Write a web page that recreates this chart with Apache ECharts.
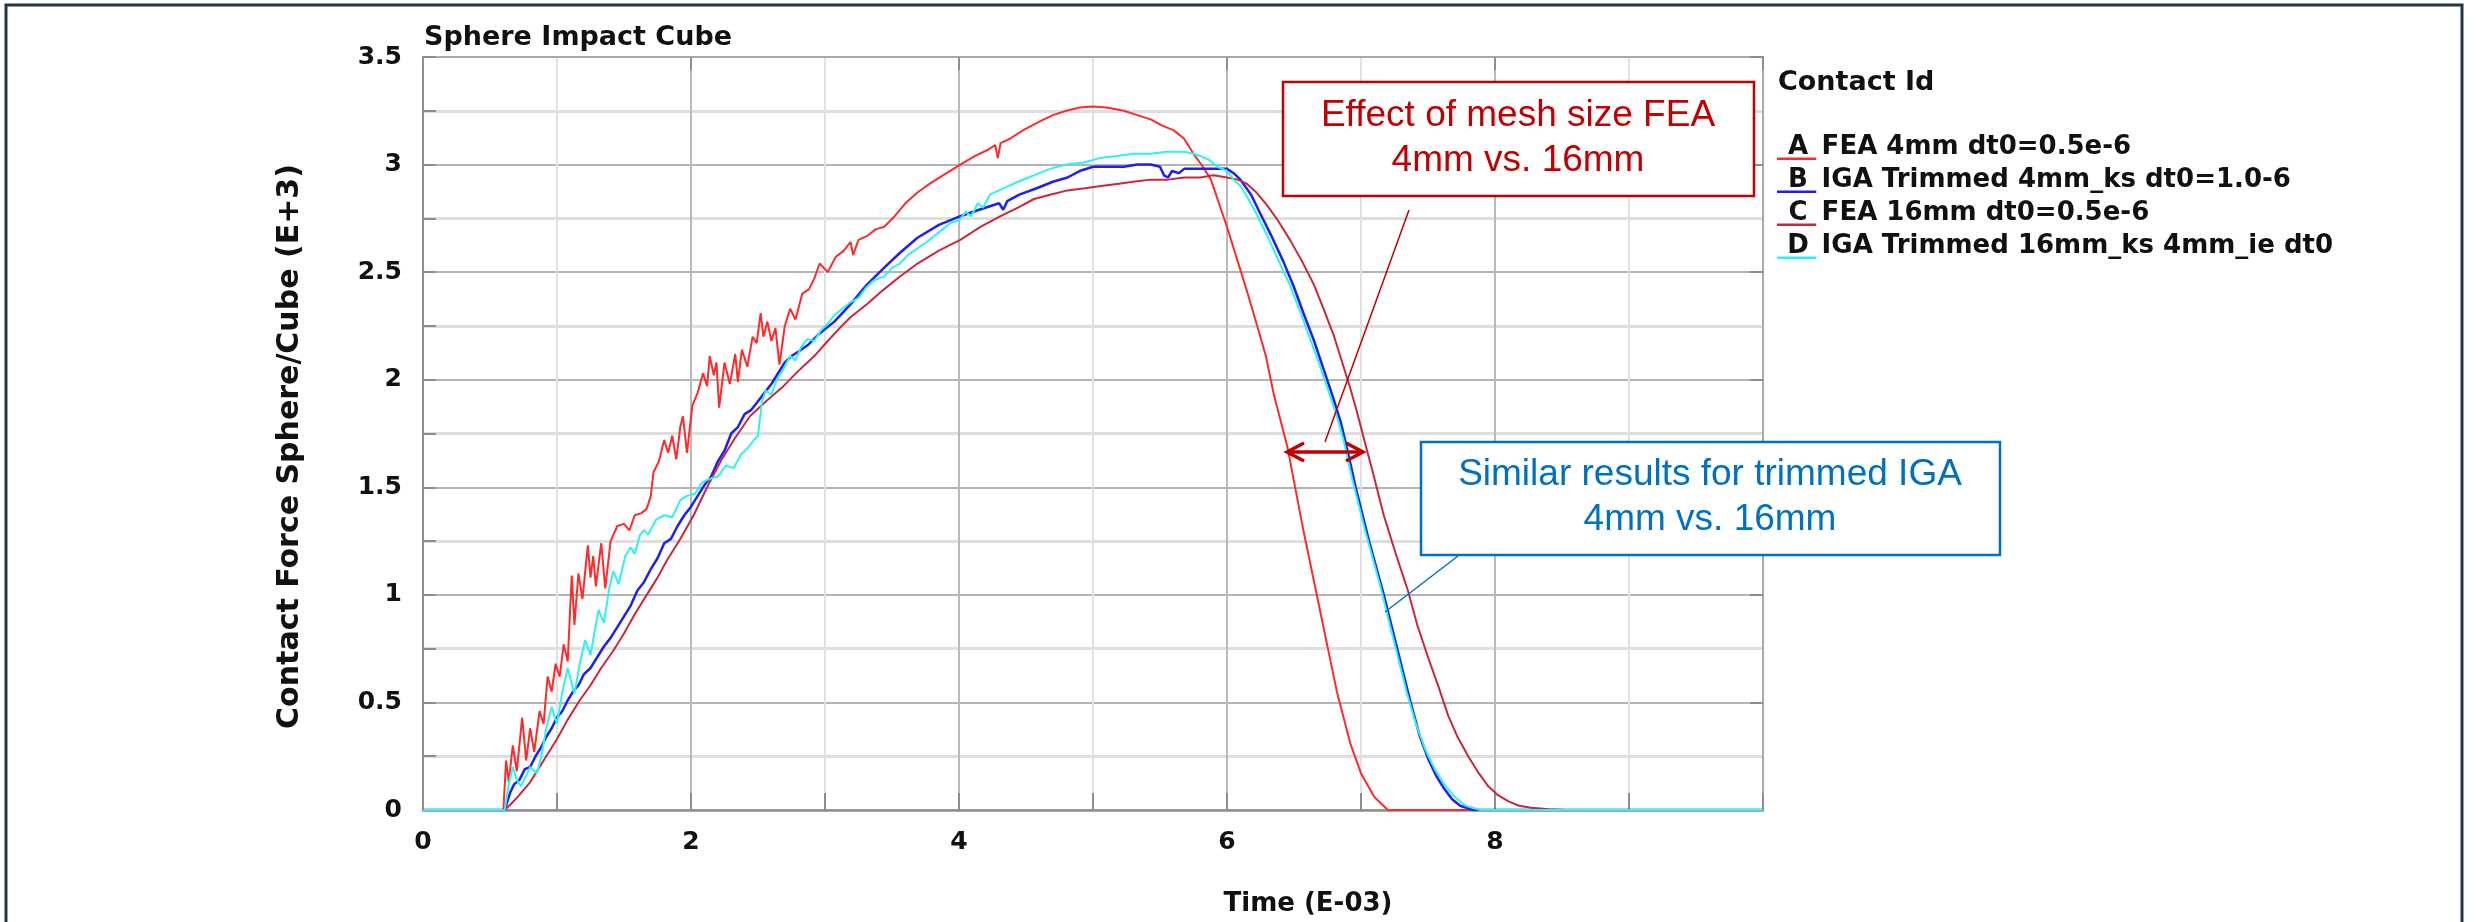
<!DOCTYPE html>
<html>
<head>
<meta charset="utf-8">
<title>Sphere Impact Cube</title>
<script src="https://cdn.jsdelivr.net/npm/echarts@6/dist/echarts.min.js"></script>
<style>
  html, body { margin: 0; padding: 0; background: #fff; }
  #chart { width: 2476px; height: 922px; }
</style>
</head>
<body>
<div id="chart"></div>
<script>
// Contact force Sphere/Cube, time in E-03, force in E+3
const curveKeys = ['A', 'B', 'C', 'D'];
const curveNames = [
    'A FEA 4mm dt0=0.5e-6',
    'B IGA Trimmed 4mm_ks dt0=1.0-6',
    'C FEA 16mm dt0=0.5e-6',
    'D IGA Trimmed 16mm_ks 4mm_ie dt0'
];

// A: FEA 4mm
const fea4mm = [
    [0,0],[0.60,0],[0.62,0.23],[0.64,0.13],[0.67,0.30],[0.70,0.18],[0.74,0.43],[0.77,0.23],
    [0.80,0.38],[0.83,0.27],[0.87,0.46],[0.90,0.40],[0.93,0.62],[0.96,0.55],[0.99,0.68],
    [1.02,0.62],[1.05,0.77],[1.08,0.69],[1.11,1.09],[1.13,0.86],[1.16,1.10],[1.19,0.98],
    [1.23,1.23],[1.25,1.08],[1.27,1.18],[1.29,1.04],[1.33,1.24],[1.36,1.03],[1.40,1.25],
    [1.45,1.32],[1.50,1.33],[1.54,1.30],[1.58,1.37],[1.63,1.38],[1.67,1.40],[1.70,1.46],
    [1.72,1.57],[1.76,1.62],[1.80,1.72],[1.83,1.66],[1.86,1.74],[1.89,1.63],[1.92,1.78],
    [1.94,1.83],[1.97,1.66],[2.01,1.88],[2.05,1.94],[2.09,2.03],[2.12,1.97],[2.14,2.11],
    [2.17,2.02],[2.19,2.08],[2.21,1.87],[2.25,2.08],[2.29,1.98],[2.33,2.12],[2.35,1.99],
    [2.38,2.14],[2.42,2.06],[2.46,2.20],[2.49,2.17],[2.52,2.31],[2.54,2.20],[2.57,2.27],
    [2.60,2.18],[2.63,2.24],[2.66,2.07],[2.70,2.25],[2.74,2.33],[2.78,2.28],[2.83,2.40],
    [2.88,2.42],[2.92,2.47],[2.96,2.54],[3.02,2.50],[3.08,2.57],[3.14,2.60],[3.19,2.64],
    [3.21,2.58],[3.25,2.65],[3.32,2.67],[3.38,2.70],[3.44,2.71],[3.52,2.76],[3.60,2.82],
    [3.69,2.87],[3.78,2.91],[3.88,2.95],[4.01,3.00],[4.12,3.04],[4.22,3.07],[4.27,3.09],
    [4.29,3.03],[4.31,3.10],[4.38,3.12],[4.48,3.16],[4.60,3.20],[4.70,3.23],[4.80,3.25],
    [4.90,3.265],[5.00,3.27],[5.10,3.265],[5.23,3.25],[5.33,3.23],[5.43,3.21],[5.52,3.18],
    [5.60,3.16],[5.68,3.12],[5.75,3.05],[5.82,2.99],[5.88,2.93],[5.94,2.82],[6.00,2.71],
    [6.08,2.55],[6.15,2.41],[6.23,2.24],[6.29,2.11],[6.35,1.93],[6.45,1.69],[6.57,1.30],
    [6.70,0.91],[6.82,0.55],[6.92,0.31],[7.00,0.17],[7.10,0.06],[7.20,0],[10,0]
];

// B: IGA trimmed 4mm
const iga4mm = [
    [0,0],[0.61,0],[0.65,0.08],[0.68,0.12],[0.72,0.14],[0.76,0.19],[0.80,0.20],[0.84,0.25],
    [0.88,0.29],[0.92,0.34],[0.96,0.38],[1.00,0.43],[1.04,0.46],[1.08,0.51],[1.12,0.55],
    [1.16,0.58],[1.20,0.63],[1.25,0.66],[1.30,0.71],[1.35,0.76],[1.40,0.80],[1.45,0.85],
    [1.50,0.90],[1.55,0.95],[1.60,1.02],[1.65,1.06],[1.70,1.12],[1.75,1.17],[1.80,1.24],
    [1.85,1.26],[1.90,1.32],[1.95,1.37],[2.00,1.41],[2.05,1.46],[2.10,1.51],[2.15,1.55],
    [2.20,1.62],[2.25,1.67],[2.30,1.75],[2.35,1.78],[2.40,1.84],[2.45,1.86],[2.50,1.90],
    [2.55,1.94],[2.60,1.98],[2.65,2.03],[2.70,2.08],[2.75,2.11],[2.80,2.13],[2.87,2.16],
    [2.95,2.21],[3.07,2.27],[3.19,2.35],[3.31,2.44],[3.44,2.52],[3.56,2.59],[3.69,2.66],
    [3.85,2.72],[4.01,2.76],[4.15,2.79],[4.30,2.82],[4.33,2.79],[4.36,2.83],[4.45,2.86],
    [4.58,2.89],[4.70,2.92],[4.81,2.94],[4.90,2.97],[5.00,2.99],[5.12,2.99],[5.23,2.99],
    [5.33,3.00],[5.43,3.00],[5.50,2.99],[5.53,2.95],[5.56,2.94],[5.59,2.97],[5.64,2.96],
    [5.68,2.98],[5.80,2.98],[5.90,2.98],[6.00,2.98],[6.05,2.96],[6.10,2.93],[6.18,2.86],
    [6.25,2.77],[6.33,2.67],[6.42,2.55],[6.50,2.43],[6.57,2.31],[6.65,2.18],[6.72,2.05],
    [6.79,1.92],[6.85,1.80],[6.90,1.67],[6.96,1.50],[7.06,1.25],[7.17,1.00],[7.27,0.75],
    [7.37,0.50],[7.44,0.34],[7.50,0.24],[7.56,0.16],[7.62,0.10],[7.68,0.05],[7.74,0.02],
    [7.84,0],[10,0]
];

// C: FEA 16mm
const fea16mm = [
    [0,0],[0.61,0],[0.66,0.03],[0.72,0.07],[0.80,0.13],[0.86,0.19],[0.92,0.25],[1.00,0.33],
    [1.08,0.42],[1.17,0.51],[1.25,0.58],[1.33,0.66],[1.42,0.74],[1.50,0.82],[1.58,0.91],
    [1.67,1.00],[1.75,1.08],[1.82,1.16],[1.92,1.26],[2.02,1.37],[2.12,1.50],[2.22,1.62],
    [2.33,1.73],[2.44,1.83],[2.56,1.90],[2.69,1.97],[2.80,2.04],[2.92,2.11],[3.02,2.18],
    [3.11,2.24],[3.19,2.29],[3.31,2.35],[3.44,2.42],[3.56,2.48],[3.69,2.54],[3.85,2.60],
    [4.01,2.65],[4.16,2.71],[4.31,2.76],[4.44,2.80],[4.56,2.84],[4.68,2.86],[4.81,2.88],
    [4.94,2.89],[5.06,2.90],[5.18,2.91],[5.30,2.92],[5.43,2.93],[5.56,2.93],[5.68,2.94],
    [5.80,2.94],[5.90,2.95],[6.00,2.94],[6.08,2.93],[6.15,2.91],[6.22,2.87],[6.30,2.81],
    [6.38,2.74],[6.47,2.65],[6.56,2.55],[6.65,2.44],[6.72,2.33],[6.80,2.20],[6.86,2.08],
    [6.92,1.96],[6.97,1.85],[7.02,1.73],[7.08,1.59],[7.17,1.37],[7.26,1.19],[7.35,1.02],
    [7.42,0.86],[7.50,0.71],[7.58,0.57],[7.65,0.44],[7.72,0.34],[7.80,0.25],[7.88,0.17],
    [7.95,0.11],[8.02,0.07],[8.10,0.04],[8.18,0.02],[8.27,0.01],[8.40,0.003],[8.53,0],[10,0]
];

// D: IGA trimmed 16mm
const iga16mm = [
    [0,0],[0.61,0],[0.64,0.12],[0.67,0.20],[0.70,0.14],[0.73,0.11],[0.77,0.16],[0.80,0.20],
    [0.85,0.17],[0.88,0.24],[0.92,0.38],[0.96,0.48],[1.00,0.40],[1.04,0.55],[1.08,0.66],
    [1.13,0.54],[1.17,0.68],[1.21,0.79],[1.25,0.72],[1.31,0.93],[1.35,0.87],[1.39,1.03],
    [1.42,1.11],[1.46,1.05],[1.51,1.18],[1.55,1.22],[1.58,1.19],[1.62,1.28],[1.65,1.30],
    [1.68,1.28],[1.74,1.35],[1.80,1.37],[1.86,1.36],[1.92,1.44],[1.97,1.46],[2.03,1.47],
    [2.08,1.52],[2.14,1.54],[2.20,1.55],[2.26,1.60],[2.32,1.59],[2.37,1.65],[2.42,1.68],
    [2.47,1.72],[2.50,1.74],[2.53,1.90],[2.56,1.95],[2.60,1.93],[2.64,2.00],[2.69,2.05],
    [2.74,2.11],[2.78,2.09],[2.82,2.15],[2.87,2.19],[2.92,2.18],[2.97,2.23],[3.02,2.26],
    [3.07,2.30],[3.13,2.33],[3.19,2.36],[3.25,2.38],[3.31,2.43],[3.36,2.46],[3.44,2.48],
    [3.50,2.52],[3.56,2.54],[3.62,2.58],[3.69,2.61],[3.76,2.64],[3.82,2.67],[3.88,2.70],
    [3.94,2.73],[4.00,2.74],[4.05,2.78],[4.09,2.76],[4.14,2.82],[4.18,2.80],[4.23,2.86],
    [4.30,2.88],[4.37,2.90],[4.44,2.92],[4.52,2.94],[4.60,2.96],[4.68,2.98],[4.80,3.00],
    [4.93,3.01],[5.05,3.03],[5.18,3.04],[5.30,3.05],[5.43,3.05],[5.55,3.06],[5.68,3.06],
    [5.75,3.05],[5.80,3.04],[5.87,3.02],[5.93,2.99],[6.00,2.97],[6.05,2.93],[6.10,2.90],
    [6.15,2.85],[6.22,2.77],[6.30,2.67],[6.38,2.56],[6.47,2.44],[6.55,2.31],[6.62,2.19],
    [6.69,2.07],[6.75,1.96],[6.82,1.83],[6.87,1.72],[6.93,1.55],[7.03,1.30],[7.14,1.05],
    [7.24,0.80],[7.34,0.55],[7.41,0.40],[7.48,0.28],[7.55,0.19],[7.62,0.12],[7.70,0.06],
    [7.78,0.02],[7.89,0],[10,0]
];

const curveData = [fea4mm, iga4mm, fea16mm, iga16mm];
const curveColors = ['#ff2a2a', '#1f1fee', '#c8283c', '#2ef2f2'];
const curveWidths = [2, 2.5, 2, 2];

const chartFont = 'DejaVu Sans';
const noteFont = 'Liberation Sans';
const axisGrey = '#8e8e8e';

const chart = echarts.init(document.getElementById('chart'), null, { renderer: 'canvas' });

const series = curveNames.map((name, i) => ({
    name: name,
    type: 'line',
    data: curveData[i],
    showSymbol: false,
    symbol: 'none',
    lineStyle: { color: curveColors[i], width: curveWidths[i] },
    itemStyle: { color: curveColors[i] },
    animation: false
}));

// letters sit on top of the coloured underline of each legend entry
const legendLetters = curveKeys.map((k, i) => ({
    type: 'text',
    z: 100,
    x: 1798,
    y: 147 + i * 33,
    style: {
        text: k,
        font: 'bold 26px "' + chartFont + '"',
        fill: '#111',
        align: 'center', textAlign: 'center',
        verticalAlign: 'middle', textVerticalAlign: 'middle'
    }
}));

const option = {
    backgroundColor: '#ffffff',
    animation: false,
    title: [
        {
            text: 'Sphere Impact Cube',
            left: 424, top: 24, padding: 0,
            textStyle: { fontFamily: chartFont, fontSize: 27, fontWeight: 'bold', color: '#111' }
        },
        {
            text: 'Contact Id',
            left: 1778, top: 69, padding: 0,
            textStyle: { fontFamily: chartFont, fontSize: 27, fontWeight: 'bold', color: '#111' }
        }
    ],
    legend: {
        orient: 'vertical',
        left: 1777, top: 134,
        padding: 0,
        itemWidth: 40, itemHeight: 26, itemGap: 7,
        icon: 'path://M0,0L40,0L40,0ZM0,24L40,24L40,26.5L0,26.5Z',
        itemStyle: { borderWidth: 0 },
        selectedMode: false,
        formatter: name => name.slice(2),
        textStyle: { fontFamily: chartFont, fontSize: 26, fontWeight: 'bold', color: '#111', lineHeight: 26 },
        data: curveNames
    },
    grid: { left: 423, right: 713, top: 57, bottom: 109, containLabel: false },
    xAxis: [
        {
            type: 'value', min: 0, max: 10, interval: 2,
            name: 'Time (E-03)', nameLocation: 'middle', nameGap: 81,
            nameTextStyle: { fontFamily: chartFont, fontSize: 26, fontWeight: 'bold', color: '#111', padding: [0, 0, 0, 430] },
            axisLine: { lineStyle: { color: axisGrey, width: 2.5 } },
            axisTick: { inside: true, length: 17, lineStyle: { color: axisGrey, width: 2 } },
            minorTick: { show: true, splitNumber: 2, length: 17, lineStyle: { color: axisGrey, width: 2 } },
            splitLine: { show: true, lineStyle: { color: '#b9b9b9', width: 2 } },
            minorSplitLine: { show: true, lineStyle: { color: '#e0e0e0', width: 2 } },
            axisLabel: { showMaxLabel: false, margin: 20, fontFamily: chartFont, fontSize: 25, fontWeight: 'bold', color: '#111' }
        },
        {
            type: 'value', position: 'top', min: 0, max: 10, interval: 2,
            axisLine: { show: true, onZero: false, lineStyle: { color: '#a8a8a8', width: 2 } },
            axisTick: { show: true, inside: true, length: 13, lineStyle: { color: axisGrey, width: 2 } },
            axisLabel: { show: false },
            splitLine: { show: false }
        }
    ],
    yAxis: [
        {
            type: 'value', min: 0, max: 3.5, interval: 0.5,
            name: 'Contact Force Sphere/Cube (E+3)', nameLocation: 'middle', nameGap: 118,
            nameTextStyle: { fontFamily: chartFont, fontSize: 30, fontWeight: 'bold', color: '#111', padding: [0, 26, 0, 0] },
            axisLine: { show: true, lineStyle: { color: axisGrey, width: 2 } },
            axisTick: { show: true, inside: true, length: 13, lineStyle: { color: axisGrey, width: 2 } },
            minorTick: { show: true, splitNumber: 2, length: 13, lineStyle: { color: axisGrey, width: 2 } },
            splitLine: { show: true, lineStyle: { color: '#b4b4b4', width: 2 } },
            minorSplitLine: { show: true, lineStyle: { color: '#dedede', width: 3 } },
            axisLabel: { margin: 21, fontFamily: chartFont, fontSize: 25, fontWeight: 'bold', color: '#111' }
        },
        {
            type: 'value', position: 'right', min: 0, max: 3.5, interval: 0.5,
            axisLine: { show: true, onZero: false, lineStyle: { color: '#a8a8a8', width: 2 } },
            axisTick: { show: true, inside: true, length: 13, lineStyle: { color: axisGrey, width: 2 } },
            axisLabel: { show: false },
            splitLine: { show: false }
        }
    ],
    series: series,
    graphic: [
        // outer frame
        {
            type: 'rect', z: 100,
            shape: { x: 6, y: 5, width: 2456, height: 940 },
            style: { fill: null, stroke: '#22364a', lineWidth: 3 }
        },
        // FEA note
        {
            type: 'line', z: 100,
            shape: { x1: 1409, y1: 210, x2: 1325, y2: 442 },
            style: { stroke: '#c00000', lineWidth: 1.5 }
        },
        {
            type: 'rect', z: 100,
            shape: { x: 1283, y: 82, width: 471, height: 114 },
            style: { fill: '#ffffff', stroke: '#c00000', lineWidth: 2.5 }
        },
        {
            type: 'text', z: 101,
            x: 1518, y: 138,
            style: {
                text: 'Effect of mesh size FEA\n4mm vs. 16mm',
                font: '37px "' + noteFont + '"',
                fill: '#c00000', lineHeight: 45,
                align: 'center', textAlign: 'center',
                verticalAlign: 'middle', textVerticalAlign: 'middle'
            }
        },
        // double arrow
        {
            type: 'line', z: 100,
            shape: { x1: 1288, y1: 452, x2: 1362, y2: 452 },
            style: { stroke: '#c00000', lineWidth: 3.5 }
        },
        {
            type: 'polyline', z: 100,
            shape: { points: [[1304, 443], [1287, 452], [1304, 461]] },
            style: { stroke: '#c00000', lineWidth: 3.5, fill: null }
        },
        {
            type: 'polyline', z: 100,
            shape: { points: [[1346, 443], [1363, 452], [1346, 461]] },
            style: { stroke: '#c00000', lineWidth: 3.5, fill: null }
        },
        // IGA note
        {
            type: 'line', z: 100,
            shape: { x1: 1458, y1: 556, x2: 1385, y2: 612 },
            style: { stroke: '#0070c0', lineWidth: 1.5 }
        },
        {
            type: 'rect', z: 100,
            shape: { x: 1421, y: 442, width: 579, height: 113 },
            style: { fill: '#ffffff', stroke: '#0070c0', lineWidth: 2.5 }
        },
        {
            type: 'text', z: 101,
            x: 1710, y: 497,
            style: {
                text: 'Similar results for trimmed IGA\n4mm vs. 16mm',
                font: '37px "' + noteFont + '"',
                fill: '#0070c0', lineHeight: 45,
                align: 'center', textAlign: 'center',
                verticalAlign: 'middle', textVerticalAlign: 'middle'
            }
        }
    ].concat(legendLetters)
};

chart.setOption(option);
</script>
</body>
</html>
